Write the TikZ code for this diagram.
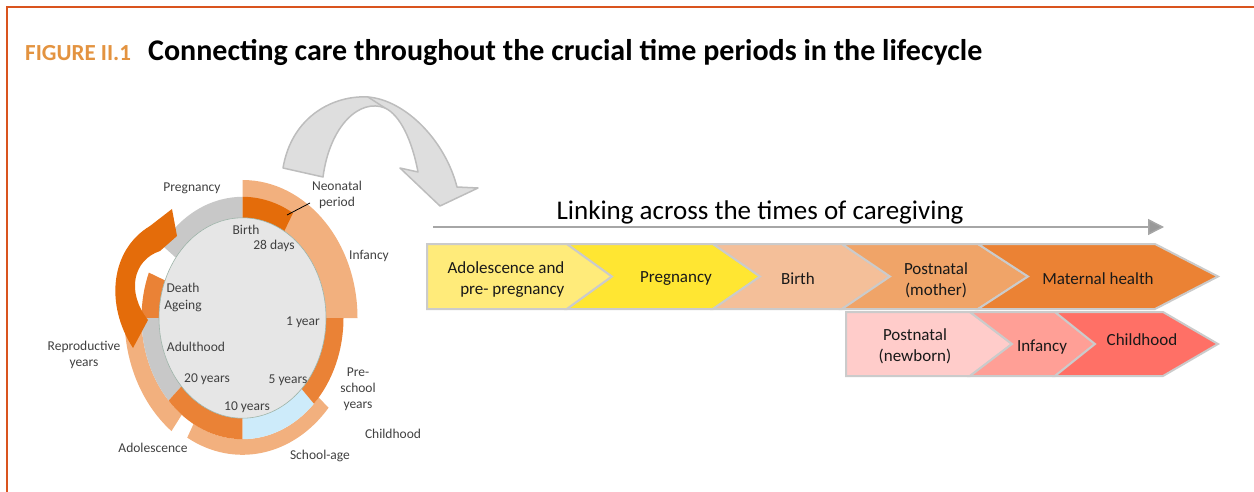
\documentclass[tikz,border=0pt]{standalone}
\usepackage{fontspec}
\setmainfont{Carlito}
\usetikzlibrary{positioning,arrows.meta}

\definecolor{frameorange}{HTML}{D9541E}
\definecolor{figorange}{HTML}{E39340}
\definecolor{labelgray}{HTML}{404040}
\definecolor{ringgray}{HTML}{C8C8C8}
\definecolor{innergray}{HTML}{E6E6E6}
\definecolor{innerline}{HTML}{9DB3A8}
\definecolor{peach}{HTML}{F2B07E}
\definecolor{darkorange}{HTML}{E46C0A}
\definecolor{midorange}{HTML}{EA8236}
\definecolor{lightblue}{HTML}{CDEBFA}
\definecolor{arrowgray}{HTML}{DEDEDE}
\definecolor{arrowedge}{HTML}{BDBDBD}
\definecolor{linkgray}{HTML}{A6A6A6}
\definecolor{chevborder}{HTML}{CBCBCB}
\definecolor{chevA}{HTML}{FFEB7A}
\definecolor{chevB}{HTML}{FFE632}
\definecolor{chevC}{HTML}{F4BF99}
\definecolor{chevD}{HTML}{F0A468}
\definecolor{chevE}{HTML}{EB8234}
\definecolor{chevF}{HTML}{FFCCCA}
\definecolor{chevG}{HTML}{FF9F96}
\definecolor{chevH}{HTML}{FF7066}

% one piece of the life ring: colour, start angle, end angle, inner and outer radius
\newcommand{\ringpart}[5]{%
  \fill[#1] (#2:#4pt and 1.2*#4pt) arc[start angle=#2, end angle=#3, x radius=#4pt, y radius=1.2*#4pt]
    -- (#3:#5pt and 1.2*#5pt) arc[start angle=#3, end angle=#2, x radius=#5pt, y radius=1.2*#5pt] -- cycle;}

\tikzset{
  lbl/.style={font=\fontsize{13.5}{16}\selectfont, text=labelgray, align=center, inner sep=0pt},
  chevtxt/.style={font=\fontsize{17}{21}\selectfont, text=black!90, align=center, inner sep=0pt},
  chev/.style={draw=chevborder, line width=2pt, line join=miter},
}

\begin{document}
\begin{tikzpicture}[x=1pt, y=-1pt]
\useasboundingbox (0,0) rectangle (1254,492);

% frame and title
\draw[frameorange, line width=1.5pt] (7,492) -- (7,7) -- (1254,7);
\node[anchor=west, inner sep=0pt, text=figorange, font=\fontsize{23}{24}\selectfont\bfseries] (fig) at (25,53) {FIGURE II.1};
\node[anchor=west, inner sep=0pt, font=\fontsize{30}{32}\selectfont\bfseries] (title) at (148,52)
  {Connecting care throughout the crucial time periods in the lifecycle};

% life ring
\begin{scope}[shift={(242.5,318)}]
  \ringpart{peach}{0}{90}{83.5}{115}
  \ringpart{peach}{185}{233}{101}{118}
  \ringpart{peach}{241}{319}{101}{114}
  \ringpart{ringgray}{90}{143}{83.5}{101}
  \ringpart{midorange}{158}{180}{83.5}{101}
  \ringpart{ringgray}{180}{223}{83.5}{101}
  \ringpart{midorange}{223}{270}{83.5}{101}
  \ringpart{lightblue}{270}{315}{83.5}{101}
  \ringpart{midorange}{315}{360}{83.5}{101}
  \ringpart{darkorange}{60}{90}{83.5}{101}
  \filldraw[fill=innergray, draw=innerline, line width=0.6pt] (0,0) ellipse[x radius=83.5pt, y radius=100.2pt];
\end{scope}

% orange return arrow
\fill[darkorange] (133,348) .. controls (105,305) and (110,250) .. (150,226) -- (172,209) -- (177,236)
  -- (160,251) .. controls (133,260) and (126,292) .. (148,320) -- cycle;

% grey bridge arrow
\filldraw[fill=arrowgray, draw=arrowedge, line width=1.5pt, line join=round]
  (283,168) .. controls (292,115) and (335,95) .. (368,97)
  .. controls (405,100) and (445,140) .. (457,187)
  -- (478,188) -- (440,206) -- (400,168) -- (418,172)
  .. controls (412,140) and (400,115) .. (385,108)
  .. controls (360,98) and (330,125) .. (323,177) -- cycle;
\draw[arrowedge, line width=1.5pt] (368,97) -- (385,108);

% ring labels
\node[lbl] (pregl) at (192,188) {Pregnancy};
\node[lbl] (neol) at (337,195) {Neonatal\\period};
\draw[black, line width=0.8pt] (287,215) -- (310,203);
\node[lbl] (birthl) at (246,230) {Birth};
\node[lbl] (days) at (274,246) {28 days};
\node[lbl] (infl) at (369,256) {Infancy};
\node[lbl] (death) at (183,288) {Death};
\node[lbl] (ageing) at (183,306) {Ageing};
\node[lbl] (oneyr) at (303,322) {1 year};
\node[lbl] (adult) at (196,347) {Adulthood};
\node[lbl] (repro) at (84,355) {Reproductive\\years};
\node[lbl] (presch) at (358,389) {Pre-\\school\\years};
\node[lbl] (twenty) at (207,379) {20 years};
\node[lbl] (five) at (288,380) {5 years};
\node[lbl] (ten) at (247,407) {10 years};
\node[lbl] (childl) at (393,434) {Childhood};
\node[lbl] (adolL) at (153,448) {Adolescence};
\node[lbl] (school) at (320,456) {School-age};

% linking arrow
\coordinate (linkstart) at (433,227);
\coordinate (linkend) at (1164,227);
\draw[linkgray, line width=1.5pt, -{Triangle[length=16pt, width=16pt, fill=black!40]}] (linkstart) -- (linkend);
\node[inner sep=0pt, font=\fontsize{27}{29}\selectfont] (linking) at (760,212) {Linking across the times of caregiving};

% mother row
\filldraw[chev, fill=chevA] (427,244) -- (567,244) -- (612,276.5) -- (567,309) -- (427,309) -- cycle;
\filldraw[chev, fill=chevB] (567,244) -- (713,244) -- (760,276.5) -- (713,309) -- (567,309) -- (612,276.5) -- cycle;
\filldraw[chev, fill=chevC] (713,244) -- (842,244) -- (890,276.5) -- (842,309) -- (713,309) -- (760,276.5) -- cycle;
\filldraw[chev, fill=chevD] (842,244) -- (978,244) -- (1028,276.5) -- (978,309) -- (842,309) -- (890,276.5) -- cycle;
\filldraw[chev, fill=chevE] (978,244) -- (1155,244) -- (1218,276.5) -- (1155,309) -- (978,309) -- (1028,276.5) -- cycle;
\node[chevtxt, align=right] (adolc) at (506,280) {Adolescence and\\pre- pregnancy};
\node[chevtxt] (pregc) at (676,279) {Pregnancy};
\node[chevtxt] (birthc) at (798,279) {Birth};
\node[chevtxt] (postm) at (936,280) {Postnatal\\(mother)};
\node[chevtxt] (matern) at (1098,279) {Maternal health};

% child row
\filldraw[chev, fill=chevF] (846,312) -- (970,312) -- (1012,344) -- (970,376) -- (846,376) -- cycle;
\filldraw[chev, fill=chevG] (970,312) -- (1055,312) -- (1095,344) -- (1055,376) -- (970,376) -- (1012,344) -- cycle;
\filldraw[chev, fill=chevH] (1055,312) -- (1163,312) -- (1218,344) -- (1163,376) -- (1055,376) -- (1095,344) -- cycle;
\node[chevtxt] (postn) at (915,346) {Postnatal\\(newborn)};
\node[chevtxt] (infc) at (1042,347) {Infancy};
\node[chevtxt] (childc) at (1142,340) {Childhood};
\end{tikzpicture}
\end{document}
